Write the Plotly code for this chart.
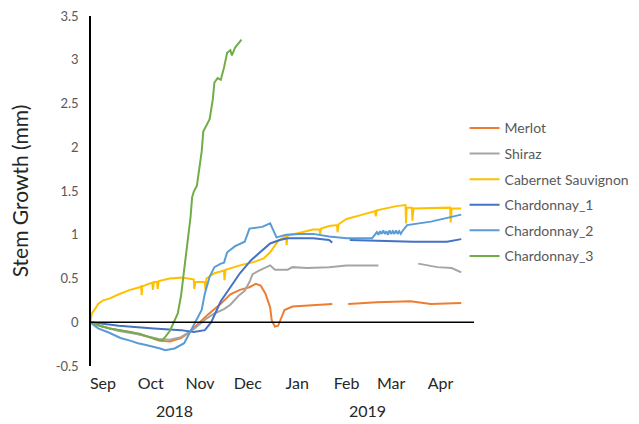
import plotly.graph_objects as go

# ---- data -------------------------------------------------------------
merlot_dates = ["2018-08-24", "2018-08-30", "2018-09-05", "2018-09-11", "2018-09-18",
                "2018-09-24", "2018-09-30", "2018-10-06", "2018-10-13", "2018-10-20",
                "2018-10-24", "2018-10-30", "2018-11-06", "2018-11-14", "2018-11-20",
                "2018-11-26", "2018-12-02", "2018-12-06", "2018-12-09", "2018-12-12",
                "2018-12-15", "2018-12-16", "2018-12-18", "2018-12-20", "2018-12-22",
                "2018-12-24", "2018-12-29", "2019-01-09", "2019-01-23", "2019-01-28",
                "2019-02-02", "2019-02-20", "2019-03-13", "2019-03-26", "2019-04-14"]
merlot_vals = [0.0, -0.04, -0.07, -0.09, -0.11,
               -0.14, -0.17, -0.21, -0.22, -0.18,
               -0.13, -0.03, 0.09, 0.21, 0.32,
               0.37, 0.40, 0.44, 0.42, 0.33,
               0.17, 0.02, -0.05, -0.04, 0.05,
               0.14, 0.18, 0.19, 0.21, None,
               0.21, 0.23, 0.24, 0.21, 0.22]

shiraz_dates = ["2018-08-24", "2018-08-30", "2018-09-11", "2018-09-24", "2018-10-06",
                "2018-10-13", "2018-10-20", "2018-10-28", "2018-11-04", "2018-11-10",
                "2018-11-16", "2018-11-20", "2018-11-25", "2018-11-29", "2018-12-02",
                "2018-12-04", "2018-12-08", "2018-12-15", "2018-12-18", "2018-12-26",
                "2018-12-29", "2019-01-07", "2019-01-21", "2019-02-01", "2019-02-21",
                "2019-03-01", "2019-03-18", "2019-03-30", "2019-04-08", "2019-04-14"]
shiraz_vals = [0.0, -0.04, -0.10, -0.14, -0.19,
               -0.20, -0.17, -0.08, 0.03, 0.10,
               0.15, 0.20, 0.30, 0.36, 0.46,
               0.55, 0.59, 0.65, 0.60, 0.60,
               0.63, 0.62, 0.63, 0.65, 0.65,
               None, 0.67, 0.63, 0.62, 0.57]

cabernet_dates = ["2018-08-24", "2018-08-25", "2018-08-27", "2018-08-29", "2018-09-01",
                  "2018-09-05", "2018-09-11", "2018-09-18", "2018-09-24", "2018-09-25 00:00",
                  "2018-09-25 08:00", "2018-09-25 16:00", "2018-09-30", "2018-10-02 00:00",
                  "2018-10-02 08:00", "2018-10-03", "2018-10-05 00:00", "2018-10-05 08:00",
                  "2018-10-06", "2018-10-13", "2018-10-20", "2018-10-25", "2018-10-28 00:00",
                  "2018-10-28 08:00", "2018-10-29", "2018-11-02", "2018-11-04 00:00",
                  "2018-11-04 08:00", "2018-11-05", "2018-11-10", "2018-11-16 00:00",
                  "2018-11-16 08:00", "2018-11-17", "2018-11-26", "2018-12-05", "2018-12-11",
                  "2018-12-15", "2018-12-20", "2018-12-25 00:00", "2018-12-25 08:00",
                  "2018-12-26", "2019-01-02", "2019-01-11", "2019-01-15 00:00",
                  "2019-01-15 08:00", "2019-01-16", "2019-01-21", "2019-01-26 00:00",
                  "2019-01-26 08:00", "2019-01-27", "2019-02-01", "2019-02-11",
                  "2019-02-19 00:00", "2019-02-19 08:00", "2019-02-20", "2019-03-05",
                  "2019-03-10 00:00", "2019-03-10 08:00", "2019-03-10 16:00",
                  "2019-03-14 00:00", "2019-03-14 08:00", "2019-03-15", "2019-04-05",
                  "2019-04-07 00:00", "2019-04-07 08:00", "2019-04-08", "2019-04-14"]
cabernet_vals = [0.0, 0.10, 0.15, 0.21, 0.25,
                 0.27, 0.32, 0.37, 0.40, 0.41,
                 0.31, 0.41, 0.44, 0.45,
                 0.37, 0.46, 0.46, 0.38,
                 0.47, 0.50, 0.51, 0.50, 0.49,
                 0.38, 0.46, 0.46, 0.46,
                 0.37, 0.50, 0.56, 0.59,
                 0.48, 0.60, 0.65, 0.69, 0.73,
                 0.80, 0.93, 0.98, 0.88,
                 0.99, 1.02, 1.06, 1.06,
                 1.00, 1.07, 1.10, 1.11,
                 1.03, 1.12, 1.18, 1.23,
                 1.27, 1.21, 1.28, 1.33,
                 1.34, 1.13, 1.31,
                 1.31, 1.16, 1.30, 1.31,
                 1.31, 1.14, 1.30, 1.30]

chard1_dates = ["2018-08-24", "2018-09-11", "2018-10-03", "2018-10-20", "2018-10-28",
                "2018-11-04", "2018-11-08", "2018-11-14", "2018-11-20", "2018-11-26",
                "2018-12-03", "2018-12-09", "2018-12-15", "2018-12-21", "2018-12-26",
                "2019-01-11", "2019-01-21", "2019-01-23", "2019-01-28", "2019-02-03",
                "2019-02-22", "2019-03-15", "2019-04-05", "2019-04-14"]
chard1_vals = [0.0, -0.04, -0.07, -0.09, -0.11,
               -0.09, 0.0, 0.24, 0.40, 0.56,
               0.71, 0.80, 0.90, 0.94, 0.96,
               0.96, 0.94, 0.91, None, 0.94,
               0.93, 0.92, 0.92, 0.95]

chard2_dates = ["2018-08-24", "2018-08-29", "2018-09-05", "2018-09-12", "2018-09-18",
                "2018-09-23", "2018-09-28", "2018-10-03", "2018-10-07", "2018-10-10",
                "2018-10-16", "2018-10-22", "2018-10-26", "2018-10-30", "2018-11-02",
                "2018-11-04", "2018-11-07", "2018-11-10", "2018-11-14", "2018-11-16",
                "2018-11-18", "2018-11-23", "2018-11-29", "2018-12-02", "2018-12-10",
                "2018-12-15", "2018-12-17", "2018-12-19", "2018-12-25", "2019-01-02",
                "2019-01-11", "2019-01-21", "2019-02-01", "2019-02-17", "2019-02-20",
                "2019-02-21", "2019-02-22", "2019-02-23", "2019-02-24", "2019-02-25",
                "2019-02-26", "2019-02-27", "2019-02-28", "2019-03-01", "2019-03-02",
                "2019-03-03", "2019-03-04", "2019-03-05", "2019-03-06", "2019-03-07",
                "2019-03-08", "2019-03-11", "2019-03-26", "2019-04-05", "2019-04-14"]
chard2_vals = [0.0, -0.07, -0.12, -0.18, -0.21,
               -0.24, -0.26, -0.28, -0.30, -0.32,
               -0.30, -0.24, -0.10, 0.03, 0.14,
               0.33, 0.52, 0.63, 0.67, 0.68,
               0.80, 0.87, 0.92, 1.07, 1.09,
               1.13, 1.05, 0.97, 1.00, 1.01,
               1.01, 0.98, 0.96, 0.96, 1.03,
               1.00, 1.04, 1.01, 1.05, 1.01,
               1.04, 1.00, 1.05, 1.01, 1.04,
               1.01, 1.05, 1.01, 1.04, 1.01,
               1.04, 1.11, 1.15, 1.19, 1.23]

chard3_dates = ["2018-08-24", "2018-08-30", "2018-09-05", "2018-09-11", "2018-09-18",
                "2018-09-24", "2018-09-30", "2018-10-05", "2018-10-08", "2018-10-10",
                "2018-10-13", "2018-10-15", "2018-10-18", "2018-10-20", "2018-10-22",
                "2018-10-24", "2018-10-26", "2018-10-27", "2018-10-28", "2018-10-30",
                "2018-11-01", "2018-11-02", "2018-11-03", "2018-11-05", "2018-11-07",
                "2018-11-09", "2018-11-10", "2018-11-12", "2018-11-14", "2018-11-16",
                "2018-11-18", "2018-11-20", "2018-11-21", "2018-11-23", "2018-11-25",
                "2018-11-27"]
chard3_vals = [0.0, -0.04, -0.07, -0.09, -0.11,
               -0.13, -0.17, -0.20, -0.21, -0.17,
               -0.10, -0.02, 0.10, 0.30, 0.60,
               0.95, 1.20, 1.43, 1.49, 1.56,
               1.80, 1.95, 2.18, 2.25, 2.32,
               2.55, 2.74, 2.79, 2.77, 2.91,
               3.08, 3.11, 3.05, 3.14, 3.18,
               3.23]

series = [
    ("Merlot", merlot_dates, merlot_vals, "#ED7D31"),
    ("Shiraz", shiraz_dates, shiraz_vals, "#A5A5A5"),
    ("Cabernet Sauvignon", cabernet_dates, cabernet_vals, "#FFC000"),
    ("Chardonnay_1", chard1_dates, chard1_vals, "#4472C4"),
    ("Chardonnay_2", chard2_dates, chard2_vals, "#5B9BD5"),
    ("Chardonnay_3", chard3_dates, chard3_vals, "#70AD47"),
]

month_ticks = ["2018-09-01", "2018-10-01", "2018-11-01", "2018-12-01",
               "2019-01-01", "2019-02-01", "2019-03-01", "2019-04-01"]
month_labels = ["Sep", "Oct", "Nov", "Dec", "Jan", "Feb", "Mar", "Apr"]
year_labels = ["2018", "2019"]
year_centres = ["2018-10-16", "2019-02-14"]

y_ticks = [-0.5, 0, 0.5, 1, 1.5, 2, 2.5, 3, 3.5]
y_tick_labels = ["-0.5", "0", "0.5", "1", "1.5", "2", "2.5", "3", "3.5"]

FONT = "Lato, 'Open Sans', sans-serif"

# ---- figure -----------------------------------------------------------
fig = go.Figure()
for name, xs, ys, color in series:
    fig.add_trace(go.Scatter(
        x=xs, y=ys, name=name, mode="lines",
        line=dict(color=color, width=2),
        legendgroup=name,
        connectgaps=False,
    ))

# horizontal axis line at zero, drawn over the series
fig.add_shape(type="line", xref="paper", yref="y", x0=0, x1=1, y0=0, y1=0,
              line=dict(color="black", width=1.5), layer="above")

for label, centre in zip(year_labels, year_centres):
    fig.add_annotation(x=centre, xref="x", y=0, yref="paper", yshift=-44,
                       text=label, showarrow=False,
                       font=dict(family=FONT, size=16, color="#262626"),
                       xanchor="center", yanchor="middle")

fig.update_layout(
    width=639, height=424,
    margin=dict(l=91, r=165, t=16, b=58, autoexpand=False),
    paper_bgcolor="white", plot_bgcolor="white",
    font=dict(family=FONT),
    showlegend=True,
    legend=dict(
        xref="container", yref="container",
        x=0.727, xanchor="left", y=0.735, yanchor="top",
        font=dict(family=FONT, size=14, color="#595959"),
        traceorder="grouped", tracegroupgap=4.4,
        bgcolor="rgba(0,0,0,0)",
    ),
    xaxis=dict(
        type="date",
        range=["2018-08-24 12:00", "2019-04-22"],
        tickvals=month_ticks, ticktext=month_labels,
        showgrid=False, zeroline=False, showline=False,
        ticks="", ticklabelstandoff=6, automargin=False,
        tickfont=dict(family=FONT, size=16, color="#262626"),
    ),
    yaxis=dict(
        range=[-0.5, 3.5],
        tickvals=y_ticks, ticktext=y_tick_labels,
        showgrid=False, zeroline=False,
        showline=True, linecolor="black", linewidth=1.5,
        ticks="", ticklabelstandoff=8, automargin=False,
        tickfont=dict(family=FONT, size=13, color="#595959"),
        title=dict(text="Stem Growth (mm)", standoff=21,
                   font=dict(family=FONT, size=21, color="#262626")),
    ),
)

fig.write_html("out.html")
